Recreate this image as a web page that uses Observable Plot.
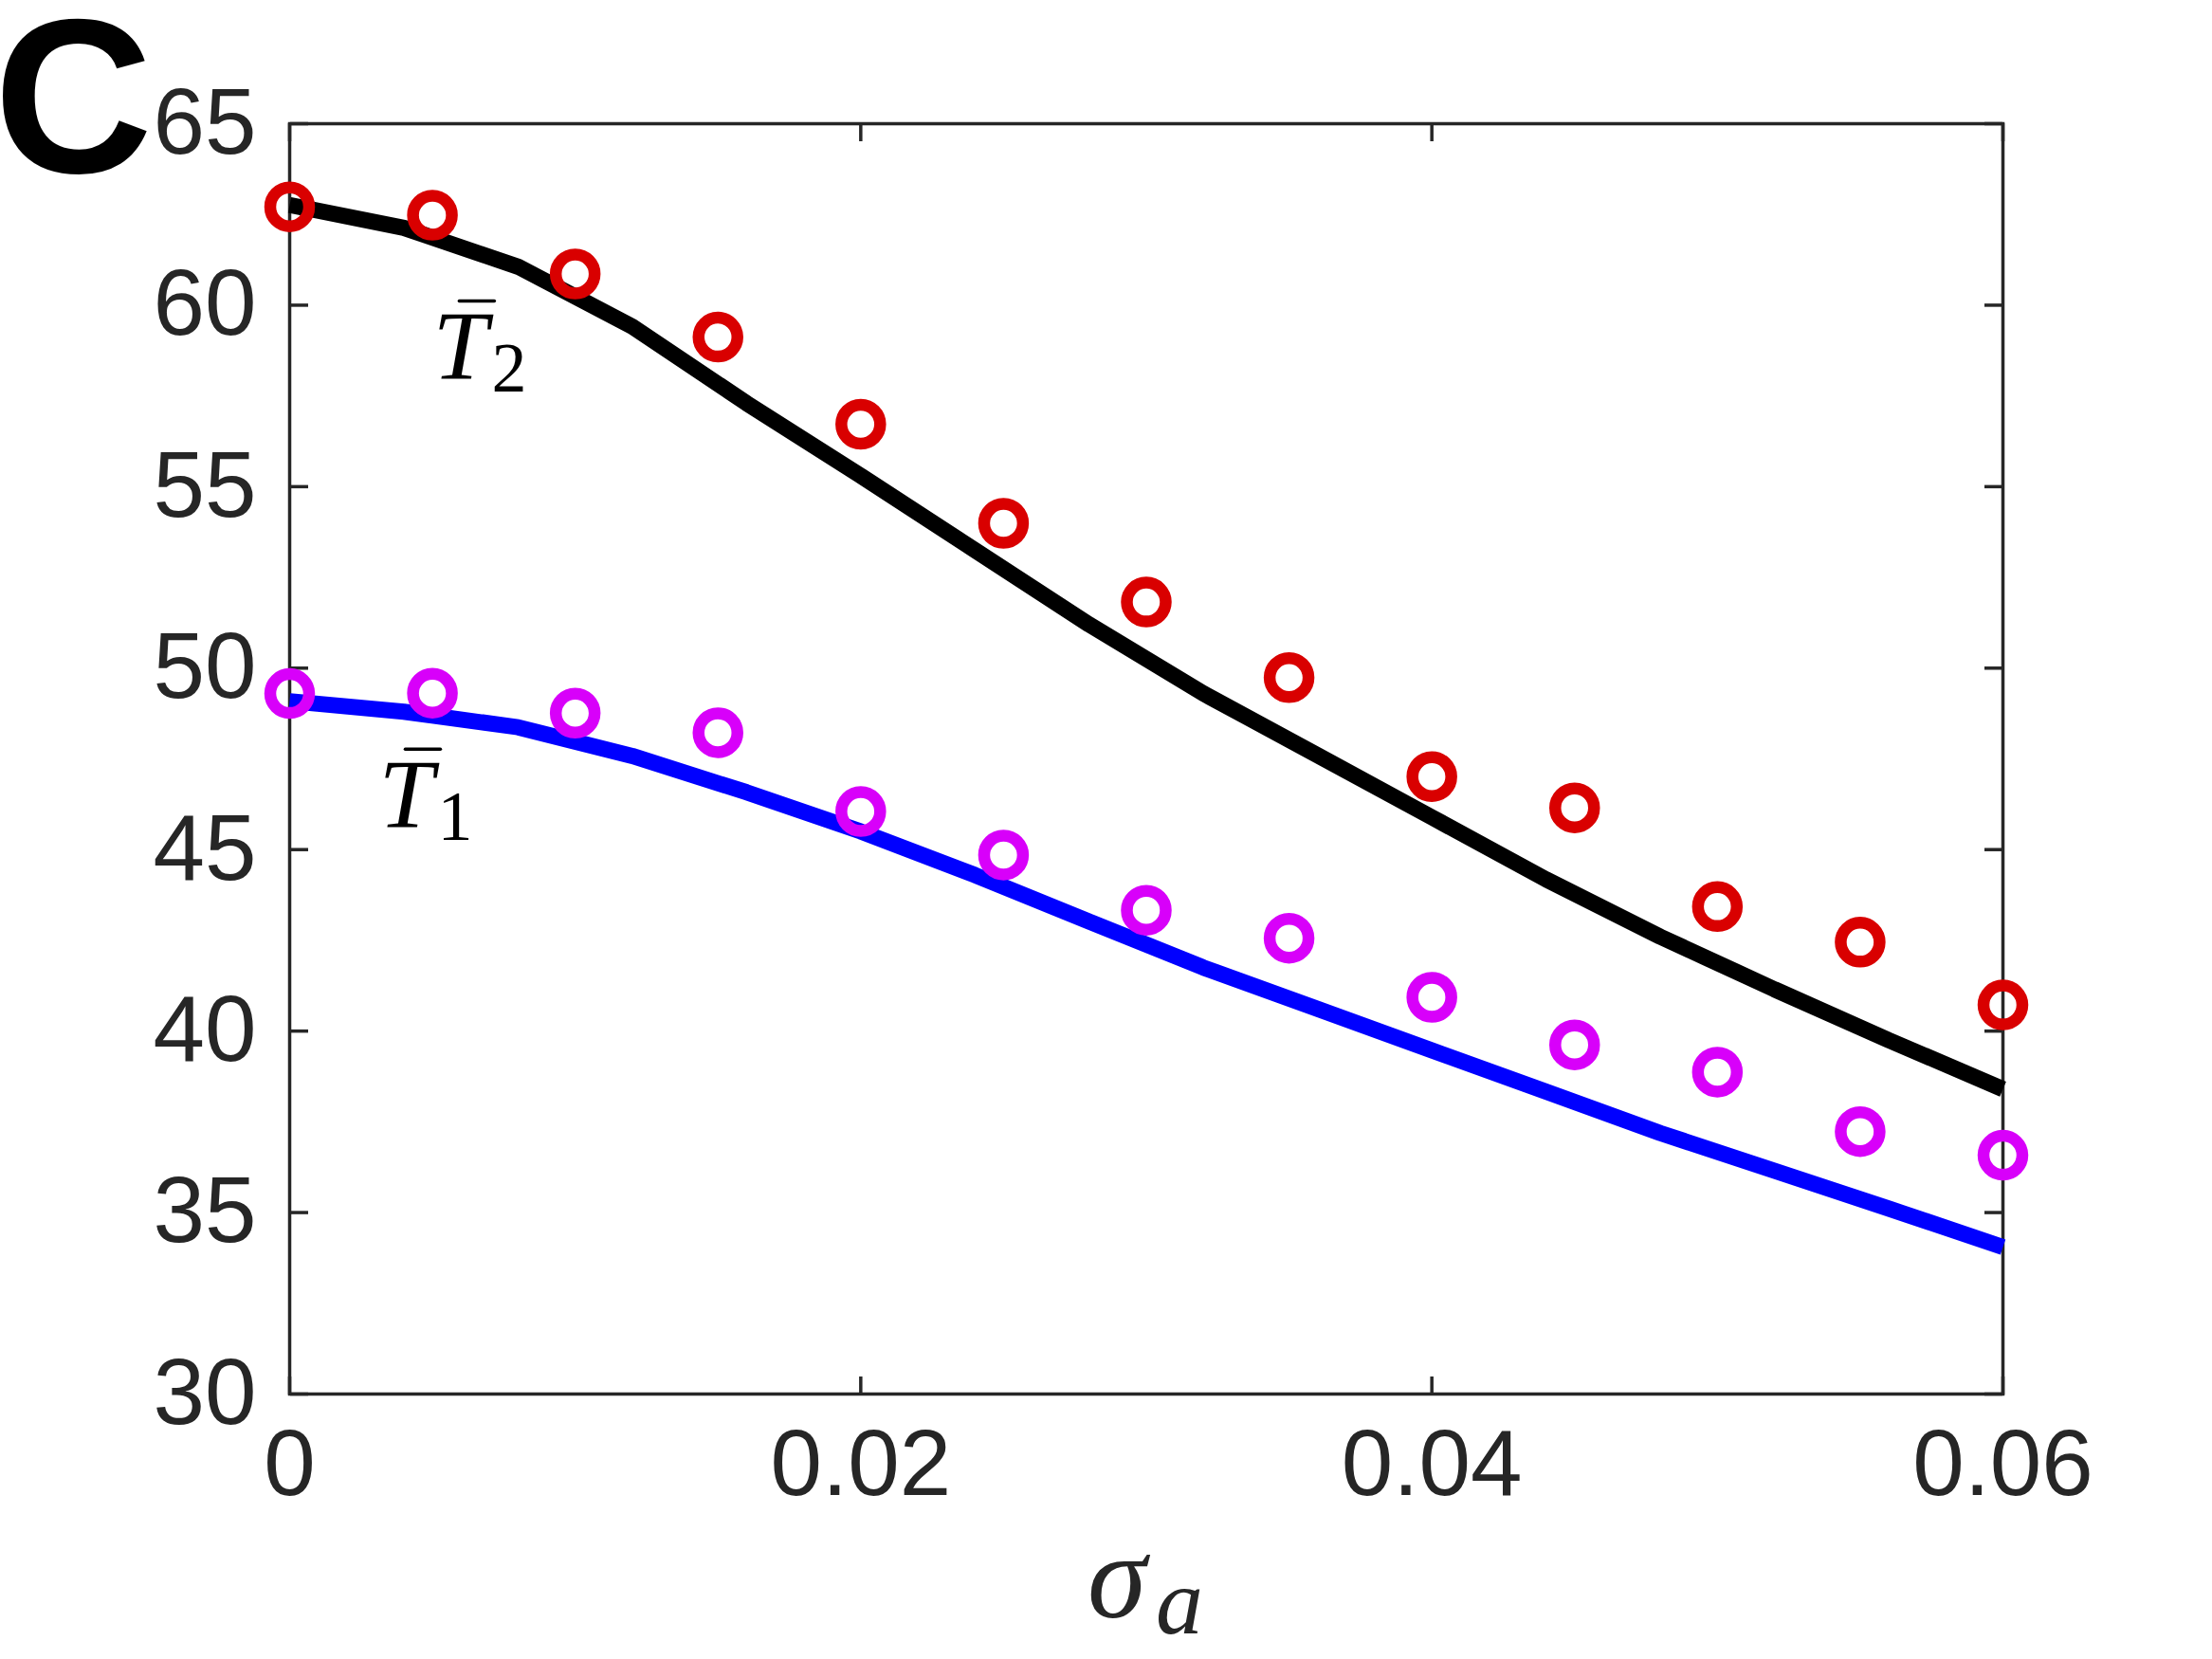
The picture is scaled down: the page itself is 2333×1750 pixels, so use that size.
<!DOCTYPE html>
<html><head><meta charset="utf-8">
<script src="https://cdn.jsdelivr.net/npm/d3@7"></script>
<script src="https://cdn.jsdelivr.net/npm/@observablehq/plot@0.6"></script>
<style>html,body{margin:0;padding:0;background:#fff;}</style>
</head><body><div id="chart"></div>
<script>
// model curves (sampled every 0.004)
const sigmaLine = [0, 0.004, 0.008, 0.012, 0.016, 0.020, 0.024, 0.028, 0.032, 0.036, 0.040, 0.044, 0.048, 0.052, 0.056, 0.060];
const T2Line = [62.76, 62.13, 61.06, 59.41, 57.30, 55.30, 53.25, 51.20, 49.30, 47.60, 45.89, 44.18, 42.60, 41.15, 39.75, 38.40];
const T1Line = [49.09, 48.80, 48.37, 47.58, 46.58, 45.50, 44.30, 43.02, 41.75, 40.61, 39.47, 38.33, 37.19, 36.15, 35.11, 34.05];
// simulation points (every 0.005)
const sigmaPts = [0, 0.005, 0.010, 0.015, 0.020, 0.025, 0.030, 0.035, 0.040, 0.045, 0.050, 0.055, 0.060];
const T2Pts = [62.71, 62.48, 60.86, 59.12, 56.72, 53.99, 51.82, 49.74, 47.01, 46.15, 43.43, 42.45, 40.72];
const T1Pts = [49.30, 49.31, 48.76, 48.22, 46.05, 44.85, 43.33, 42.56, 40.93, 39.62, 38.87, 37.23, 36.58];
// ticks
const xTicks = [0, 0.02, 0.04, 0.06];
const yTicks = [30, 35, 40, 45, 50, 55, 60, 65];
// curve labels (T-bar with subscript)
const curveNames = ["T", "T"];
const curveSubs = ["2", "1"];
const curveLabelX = [0.00501, 0.00312];
const curveLabelY = [57.95, 45.6];
const panelLetter = "C";
const xLabelMain = "\u03C3";
const xLabelSub = "a";

const lineData = sigmaLine.map((s, i) => ({s, t1: T1Line[i], t2: T2Line[i]}));
const ptData = sigmaPts.map((s, i) => ({s, t1: T1Pts[i], t2: T2Pts[i]}));
const labelData = curveNames.map((n, i) => ({name: n, sub: curveSubs[i], x: curveLabelX[i], y: curveLabelY[i]}));

const axisColor = "#262626";
const tickFmt = d => d === 0 ? "0" : d3.format(".2f")(d);
const serif = "'Liberation Serif', 'DejaVu Serif', serif";
const sans = "'Liberation Sans', Arial, sans-serif";
// overbar drawn as a plain stroke (accent of the T label)
const barShape = {draw(context, l) { context.moveTo(0, 0); context.lineTo(0, -l); }};

const chart = Plot.plot({
  width: 2333,
  height: 1750,
  marginLeft: 305,
  marginRight: 221,
  marginTop: 130,
  marginBottom: 280,
  style: {fontFamily: sans, background: "#fff", color: axisColor},
  x: {domain: [0, 0.06]},
  y: {domain: [30, 65]},
  marks: [
    Plot.frame({stroke: axisColor, strokeWidth: 3.5}),
    Plot.axisY(yTicks, {anchor: "left", tickSize: 0, tickPadding: 35, fontSize: 98, label: null, fill: axisColor}),
    Plot.axisY(yTicks, {anchor: "right", frameAnchor: "left", tickSize: 19, fill: "none", label: null, stroke: axisColor, strokeWidth: 3.5}),
    Plot.axisY(yTicks, {anchor: "left", frameAnchor: "right", tickSize: 19, fill: "none", label: null, stroke: axisColor, strokeWidth: 3.5}),
    Plot.axisX(xTicks, {anchor: "bottom", tickSize: 0, tickPadding: 37, fontSize: 98, label: null, fill: axisColor, tickFormat: tickFmt}),
    Plot.axisX(xTicks, {anchor: "top", frameAnchor: "bottom", tickSize: 19, fill: "none", label: null, stroke: axisColor, strokeWidth: 3.5}),
    Plot.axisX(xTicks, {anchor: "bottom", frameAnchor: "top", tickSize: 19, fill: "none", label: null, stroke: axisColor, strokeWidth: 3.5}),
    Plot.line(lineData, {x: "s", y: "t2", stroke: "#000000", strokeWidth: 17, strokeLinecap: "butt", strokeLinejoin: "miter"}),
    Plot.line(lineData, {x: "s", y: "t1", stroke: "#0000ff", strokeWidth: 17, strokeLinecap: "butt", strokeLinejoin: "miter"}),
    Plot.dot(ptData, {x: "s", y: "t2", r: 20.5, stroke: "#d90000", strokeWidth: 12.5, fill: "none"}),
    Plot.dot(ptData, {x: "s", y: "t1", r: 20.5, stroke: "#d800fa", strokeWidth: 12.5, fill: "none"}),
    Plot.text(labelData, {x: "x", y: "y", text: "name", className: "curve-label", textAnchor: "start", lineAnchor: "bottom", fontFamily: serif, fontStyle: "italic", fontSize: 104, fill: "#000"}),
    Plot.vector(labelData, {x: "x", y: "y", length: 37, rotate: 90, anchor: "start", shape: barShape, dx: 28, dy: -83, stroke: "#000", strokeWidth: 3.5}),
    Plot.text([xLabelMain], {frameAnchor: "bottom", text: d => d, className: "x-label", dx: -62, dy: 235, textAnchor: "start", lineAnchor: "bottom", fontFamily: serif, fontStyle: "italic", fontSize: 126, fill: axisColor}),
    Plot.text([panelLetter], {frameAnchor: "top-left", text: d => d, dx: -312, dy: 51, textAnchor: "start", lineAnchor: "bottom", fontFamily: sans, fontWeight: "bold", fontSize: 232, fill: "#000"})
  ]
});
document.getElementById("chart").appendChild(chart);

// subscript inside each curve label (one text element each)
d3.select(chart).selectAll(".curve-label text").each(function(_, i) {
  const lab = labelData[i];
  const t = d3.select(this);
  t.text(null);
  const tT = t.append("tspan").text(lab.name);
  const ts = t.append("tspan").attr("font-style", "normal").attr("font-size", 74).text(lab.sub);
  const wT = tT.node().getComputedTextLength();
  ts.attr("dx", 62 - wT).attr("dy", 13);
});
// subscript of the x label
d3.select(chart).selectAll(".x-label text").each(function() {
  const t = d3.select(this);
  const main = t.text();
  t.text(null);
  const tm = t.append("tspan").text(main);
  const ta = t.append("tspan").attr("font-size", 100).text(xLabelSub);
  const wm = tm.node().getComputedTextLength();
  ta.attr("dx", 72 - wm).attr("dy", 17);
});
</script>
</body></html>
